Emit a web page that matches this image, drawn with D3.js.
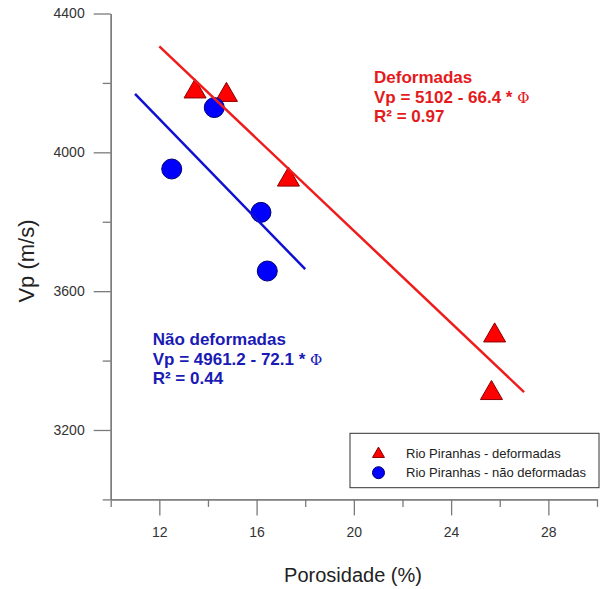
<!DOCTYPE html>
<html>
<head>
<meta charset="utf-8">
<script src="https://cdn.jsdelivr.net/npm/d3@7"></script>
<style>
  body { margin: 0; background: #fff; }
  svg text { font-family: "Liberation Sans", Arial, sans-serif; }
  .tick text { font-size: 14px; fill: #333; }
</style>
</head>
<body>
<svg width="604" height="589"></svg>
<script>
// data
const defPoros = [13.47, 14.76, 17.31, 25.79, 25.66];
const defVp = [4175, 4165, 3921, 3472, 3306];
const naoPoros = [12.51, 14.26, 16.18, 16.44];
const naoVp = [3952, 4129, 3827, 3658];

// fitted lines: Vp = a + b * phi, drawn between phi limits
const defFit = [5102, -66.4];
const defFitRange = [12, 27];
const naoFit = [4961.2, -72.1];
const naoFitRange = [11, 18];

const xMajor = [12, 16, 20, 24, 28];
const xMinor = [10, 14, 18, 22, 26, 30];
const yMajor = [3200, 3600, 4000, 4400];
const yMinor = [3000, 3400, 3800, 4200];

const svg = d3.select('svg');
const red = '#ee1c1c', blue = '#1010d0';

const x = d3.scaleLinear().domain([10, 30]).range([110.7, 597]);
const y = d3.scaleLinear().domain([3000, 4400]).range([499.4, 13.5]);

const axisCol = '#7a7a7a';

// x axis
const gx = svg.append('g').attr('transform', 'translate(0,499.4)');
gx.append('g').call(d3.axisBottom(x).tickValues(xMinor).tickSize(7.5).tickSizeOuter(0).tickFormat(''));
gx.append('g').call(d3.axisBottom(x).tickValues(xMajor).tickSize(16).tickSizeOuter(0).tickPadding(11.5).tickFormat(d3.format('d')));

// y axis
const gy = svg.append('g').attr('transform', 'translate(110.7,0)');
gy.append('g').call(d3.axisLeft(y).tickValues(yMinor).tickSize(8).tickSizeOuter(0).tickFormat(''));
gy.append('g').call(d3.axisLeft(y).tickValues(yMajor).tickSize(17).tickSizeOuter(0).tickPadding(9).tickFormat(d3.format('d')));

svg.selectAll('.domain, .tick line').attr('stroke', axisCol).attr('stroke-width', 1.3);

// axis titles
svg.append('text')
  .attr('x', 353).attr('y', 582)
  .attr('text-anchor', 'middle')
  .attr('font-size', 20).attr('fill', '#222')
  .text('Porosidade (%)');

svg.append('text')
  .attr('transform', 'translate(34,261) rotate(-90)')
  .attr('text-anchor', 'middle')
  .attr('font-size', 22).attr('fill', '#222')
  .text('Vp (m/s)');

// markers
const tri = d3.symbol().type(d3.symbolTriangle).size(210);
svg.append('g').selectAll('path')
  .data(defPoros)
  .join('path')
    .attr('d', tri)
    .attr('transform', (d, i) => 'translate(' + x(d) + ',' + y(defVp[i]) + ')')
    .attr('fill', '#ff0000')
    .attr('stroke', '#8a0000')
    .attr('stroke-width', 1);

svg.append('g').selectAll('circle')
  .data(naoPoros)
  .join('circle')
    .attr('cx', d => x(d))
    .attr('cy', (d, i) => y(naoVp[i]))
    .attr('r', 10)
    .attr('fill', '#0000ff')
    .attr('stroke', '#000070')
    .attr('stroke-width', 1);

// regression lines
const fitLine = d3.line().x(d => x(d[0])).y(d => y(d[1]));
svg.append('path')
  .attr('d', fitLine(defFitRange.map(p => [p, defFit[0] + defFit[1] * p])))
  .attr('stroke', red).attr('stroke-width', 2.5).attr('fill', 'none');
svg.append('path')
  .attr('d', fitLine(naoFitRange.map(p => [p, naoFit[0] + naoFit[1] * p])))
  .attr('stroke', blue).attr('stroke-width', 2.5).attr('fill', 'none');

// equations
function equation(x0, y0, col, title, a, b, r2) {
  const g = svg.append('g').attr('fill', col).attr('font-weight', 'bold').attr('font-size', 17);
  g.append('text').attr('x', x0).attr('y', y0).text(title);
  const t = g.append('text').attr('x', x0).attr('y', y0 + 19.5);
  t.append('tspan').text('Vp = ' + a + ' - ' + Math.abs(b) + ' * ');
  t.append('tspan').attr('font-weight', 'normal').attr('font-size', 15)
    .style('font-family', '"DejaVu Serif", serif').text('Φ');
  g.append('text').attr('x', x0).attr('y', y0 + 39).text('R² = ' + r2);
}
equation(374, 83, '#e41a1c', 'Deformadas', 5102, -66.4, '0.97');
equation(152.7, 345, '#1a1ab4', 'Não deformadas', 4961.2, -72.1, '0.44');

// legend
const lg = svg.append('g');
lg.append('rect')
  .attr('x', 350).attr('y', 433.3).attr('width', 249).attr('height', 54.4)
  .attr('fill', '#fff').attr('stroke', '#333').attr('stroke-width', 1);
lg.append('path')
  .attr('d', d3.symbol().type(d3.symbolTriangle).size(62)())
  .attr('transform', 'translate(378.5,454)')
  .attr('fill', '#ff0000').attr('stroke', '#8a0000');
lg.append('circle')
  .attr('cx', 378.5).attr('cy', 472.7).attr('r', 6)
  .attr('fill', '#0000ff').attr('stroke', '#000070');
lg.append('text').attr('x', 406).attr('y', 457.5).attr('font-size', 13).attr('fill', '#222')
  .text('Rio Piranhas - deformadas');
lg.append('text').attr('x', 406).attr('y', 477).attr('font-size', 13).attr('fill', '#222')
  .text('Rio Piranhas - não deformadas');
</script>
</body>
</html>
